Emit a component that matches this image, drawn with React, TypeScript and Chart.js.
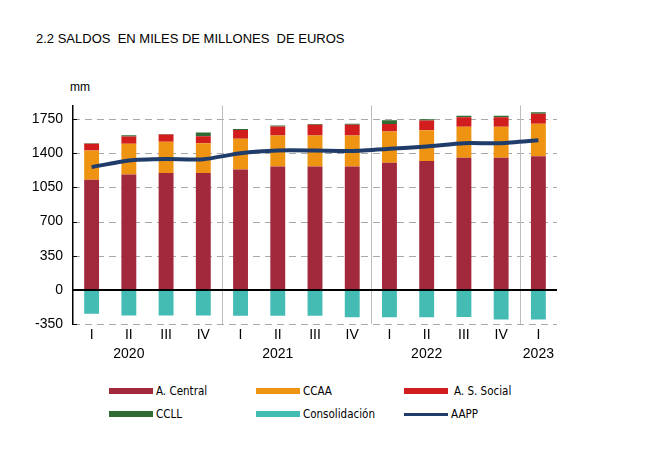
import React, { useEffect, useRef } from "react";
import { Chart, registerables } from "chart.js";

Chart.register(...registerables);

const quarters = ["I", "II", "III", "IV", "I", "II", "III", "IV", "I", "II", "III", "IV", "I"];
const years = ["", "2020", "", "", "", "2021", "", "", "", "2022", "", "", "2023"];

const aCentral = [1129, 1183, 1197, 1197, 1234, 1265, 1265, 1265, 1302, 1319, 1353, 1353, 1370];
const ccaa = [299, 313, 320, 306, 313, 316, 316, 316, 320, 316, 317, 317, 333];
const asSocial = [68, 75, 74, 71, 92, 92, 112, 112, 78, 99, 98, 98, 102];
const ccll = [5, 13, 7, 38, 10, 10, 7, 10, 37, 13, 17, 17, 14];
const consolidacion = [-245, -262, -262, -262, -265, -265, -265, -280, -282, -282, -279, -303, -303];
const aapp = [1258, 1326, 1340, 1338, 1400, 1428, 1428, 1424, 1445, 1469, 1503, 1503, 1533];

const yTicks = [-350, 0, 350, 700, 1050, 1400, 1750];
const yearBreaks = [4, 8, 12];

const COLORS = {
  central: "#A2293B",
  ccaa: "#EE9412",
  social: "#D21D1E",
  ccll: "#2F6B32",
  consol: "#45BCB3",
  aapp: "#1F3C6B",
};

const legendItems = [
  { label: "A. Central", color: COLORS.central, h: 6 },
  { label: "CCAA", color: COLORS.ccaa, h: 6 },
  { label: "A. S. Social", color: COLORS.social, h: 6 },
  { label: "CCLL", color: COLORS.ccll, h: 6 },
  { label: "Consolidación", color: COLORS.consol, h: 6 },
  { label: "AAPP", color: COLORS.aapp, h: 3 },
];

const gridPlugin = {
  id: "customGrid",
  beforeDatasetsDraw(chart: any) {
    const { ctx, chartArea, scales } = chart;
    const y = scales.y;
    const x = scales.x;
    ctx.save();
    yTicks.forEach((v) => {
      if (v === 0) return;
      const py = Math.round(y.getPixelForValue(v)) + 0.5;
      ctx.strokeStyle = "#A8A8A8";
      ctx.lineWidth = 1;
      ctx.setLineDash([7, 5]);
      ctx.beginPath();
      ctx.moveTo(chartArea.left, py);
      ctx.lineTo(chartArea.right, py);
      ctx.stroke();
      ctx.setLineDash([]);
      ctx.strokeStyle = "#000";
      ctx.beginPath();
      ctx.moveTo(chartArea.left, py);
      ctx.lineTo(chartArea.left + 4, py);
      ctx.stroke();
    });
    ctx.setLineDash([]);
    ctx.strokeStyle = "#BDBDBD";
    ctx.lineWidth = 1;
    yearBreaks.forEach((i) => {
      const px = Math.round((x.getPixelForValue(i - 1) + x.getPixelForValue(i)) / 2) + 0.5;
      ctx.beginPath();
      ctx.moveTo(px, chartArea.top);
      ctx.lineTo(px, chartArea.bottom);
      ctx.stroke();
    });
    ctx.restore();
  },
  afterDatasetsDraw(chart: any) {
    const { ctx, chartArea, scales } = chart;
    const py = Math.round(scales.y.getPixelForValue(0));
    ctx.save();
    ctx.strokeStyle = "#000";
    ctx.lineWidth = 2;
    ctx.beginPath();
    ctx.moveTo(chartArea.left, py);
    ctx.lineTo(chartArea.right, py);
    ctx.stroke();
    ctx.restore();
  },
};

export default function App() {
  const ref = useRef<HTMLCanvasElement>(null);

  useEffect(() => {
    if (!ref.current) return;
    const labels = quarters.map((q, i) => [q, years[i]]);
    const barCommon = { type: "bar" as const, stack: "s", order: 2, barPercentage: 0.4, categoryPercentage: 1, borderWidth: 0 };
    const chart = new Chart(ref.current, {
      type: "bar",
      data: {
        labels,
        datasets: [
          { ...barCommon, label: "A. Central", data: aCentral, backgroundColor: COLORS.central },
          { ...barCommon, label: "CCAA", data: ccaa, backgroundColor: COLORS.ccaa },
          { ...barCommon, label: "A. S. Social", data: asSocial, backgroundColor: COLORS.social },
          { ...barCommon, label: "CCLL", data: ccll, backgroundColor: COLORS.ccll },
          { ...barCommon, label: "Consolidación", data: consolidacion, backgroundColor: COLORS.consol },
          {
            type: "line" as const,
            label: "AAPP",
            data: aapp,
            borderColor: COLORS.aapp,
            borderWidth: 4,
            pointRadius: 0,
            tension: 0.2,
            order: 0,
            stack: "line",
          } as any,
        ],
      },
      options: {
        animation: false,
        responsive: false,
        maintainAspectRatio: false,
        layout: { padding: { top: 2, right: 23, left: 0, bottom: 0 } },
        plugins: { legend: { display: false }, tooltip: { enabled: false } },
        scales: {
          x: {
            stacked: true,
            grid: { display: false, drawTicks: false },
            border: { display: false },
            ticks: {
              color: "#000",
              font: { family: "Liberation Sans, Arial, sans-serif", size: 14, lineHeight: 1.35 },
              padding: 2,
              maxRotation: 0,
              autoSkip: false,
            },
            afterFit: (s: any) => {
              s.height = 46;
            },
          },
          y: {
            stacked: true,
            min: -350,
            max: 1890,
            grid: { display: false, drawTicks: false },
            border: { display: true, color: "#000", width: 1.5 },
            ticks: {
              stepSize: 350,
              color: "#000",
              padding: 10,
              font: { family: "Liberation Sans, Arial, sans-serif", size: 14 },
              callback: (v: any) => String(v),
            },
            afterBuildTicks: (s: any) => {
              s.ticks = yTicks.map((v) => ({ value: v }));
            },
            afterFit: (s: any) => {
              s.width = 53;
            },
          },
        },
      },
      plugins: [gridPlugin],
    } as any);
    return () => chart.destroy();
  }, []);

  const legendFont = "'Liberation Sans Narrow', 'DejaVu Sans Condensed', 'Liberation Sans', sans-serif";

  return (
    <div style={{ position: "fixed", left: 0, top: 0, width: 646, height: 453, background: "#fff", fontFamily: "Liberation Sans, Arial, sans-serif" }}>
      <div style={{ position: "absolute", left: 36, top: 31, fontSize: 13, whiteSpace: "pre", color: "#000" }}>
        {"2.2 SALDOS  EN MILES DE MILLONES  DE EUROS"}
      </div>
      <div style={{ position: "absolute", left: 70, top: 80, fontSize: 12, color: "#000" }}>mm</div>
      <canvas ref={ref} width={560} height={283} style={{ position: "absolute", left: 20, top: 87, width: 560, height: 283 }} />
      {legendItems.map((it, i) => {
        const col = i % 3;
        const row = Math.floor(i / 3);
        const left = [109, 256, 404][col];
        const cy = [391, 414][row];
        return (
          <div key={it.label} style={{ position: "absolute", left, top: cy - 8, height: 16, display: "flex", alignItems: "center" }}>
            <div style={{ width: 44, height: it.h, background: it.color, marginRight: col === 2 && row === 0 ? 6 : 3 }} />
            <span style={{ fontFamily: legendFont, fontSize: 11.5, color: "#000", lineHeight: "16px" }}>{it.label}</span>
          </div>
        );
      })}
    </div>
  );
}
